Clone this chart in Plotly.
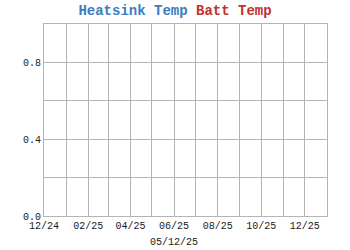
import plotly.graph_objects as go

# Data (the reference shows no data points)
heatsink_dates = []
heatsink_temp = []
batt_dates = []
batt_temp = []

series_names = ["Heatsink Temp", "Batt Temp"]
series_colors = ["#3a7dbf", "#c0322f"]

month_ticks = ["2024-12-01", "2025-01-01", "2025-02-01", "2025-03-01", "2025-04-01",
               "2025-05-01", "2025-06-01", "2025-07-01", "2025-08-01", "2025-09-01",
               "2025-10-01", "2025-11-01", "2025-12-01", "2026-01-01"]
month_labels = ["12/24", "", "02/25", "", "04/25", "", "06/25", "", "08/25", "",
                "10/25", "", "12/25", ""]
y_ticks = [0, 0.2, 0.4, 0.6, 0.8, 1.0]
y_labels = ["0.0", "", "0.4", "", "0.8", ""]
x_title = "05/12/25"

font = "Liberation Mono, Courier New, monospace"
grid = "#b4b4b4"
txt = "#1a1a1a"

fig = go.Figure()
fig.add_trace(go.Scatter(x=heatsink_dates, y=heatsink_temp, mode="lines",
                         name=series_names[0], line=dict(color=series_colors[0])))
fig.add_trace(go.Scatter(x=batt_dates, y=batt_temp, mode="lines",
                         name=series_names[1], line=dict(color=series_colors[1])))

title_text = " ".join(
    f"<span style='color:{c}'><b>{n}</b></span>" for n, c in zip(series_names, series_colors)
)

fig.update_layout(
    width=350, height=250,
    margin=dict(l=44, r=23, t=24, b=34, autoexpand=False),
    paper_bgcolor="white", plot_bgcolor="white",
    showlegend=False,
    font=dict(family=font, size=10, color=txt),
    title=dict(text=title_text, x=0.5, xanchor="center", y=1 - 10.5 / 250, yanchor="middle",
               font=dict(family=font, size=14)),
    xaxis=dict(
        type="date", automargin=False,
        range=[month_ticks[0], month_ticks[-1]],
        tickmode="array", tickvals=month_ticks, ticktext=month_labels,
        showgrid=True, gridcolor=grid, gridwidth=1,
        showline=True, linecolor=grid, mirror=True, zeroline=False,
        ticks="", ticklen=0,
        tickfont=dict(family=font, size=10, color=txt),
    ),
    yaxis=dict(
        range=[0, 1], automargin=False,
        tickmode="array", tickvals=y_ticks, ticktext=y_labels,
        showgrid=True, gridcolor=grid, gridwidth=1,
        showline=True, linecolor=grid, mirror=True, zeroline=False,
        ticks="", ticklen=0,
        tickfont=dict(family=font, size=10, color=txt),
    ),
    annotations=[dict(text=x_title, xref="paper", yref="paper", x=0.46, y=-26 / 192,
                      xanchor="center", yanchor="middle", showarrow=False,
                      font=dict(family=font, size=10, color=txt))],
)

fig.write_html("out.html")
